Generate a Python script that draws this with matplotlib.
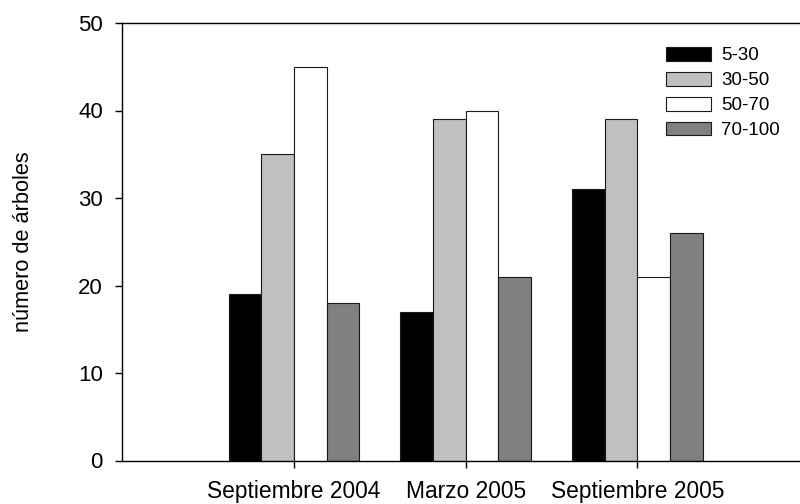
import matplotlib
matplotlib.use("Agg")
import matplotlib.pyplot as plt
import numpy as np

plt.rcParams['font.family'] = ['Liberation Sans', 'DejaVu Sans']

categories = ["Septiembre 2004", "Marzo 2005", "Septiembre 2005"]
series_names = ["5-30", "30-50", "50-70", "70-100"]
v_5_30 = [19, 17, 31]
v_30_50 = [35, 39, 39]
v_50_70 = [45, 40, 21]
v_70_100 = [18, 21, 26]
series = [v_5_30, v_30_50, v_50_70, v_70_100]
colors = ["#000000", "#c0c0c0", "#ffffff", "#808080"]

fig = plt.figure(figsize=(8.0, 5.04), dpi=100)
ax = fig.add_axes([122.3/800, 1-460.5/504, (809-122.3)/800, (460.5-23)/504])

x = np.arange(1, len(categories)+1)
w = 0.19
for i, (vals, name, c) in enumerate(zip(series, series_names, colors)):
    ax.bar(x + (i-1.5)*w, vals, width=w, color=c, edgecolor="#1a1a1a",
           linewidth=0.8, label=name, zorder=2)

ax.set_xlim(0, 4)
ax.set_ylim(0, 50)
ax.set_yticks([0, 10, 20, 30, 40, 50])
ax.set_xticks(x)
ax.set_xticklabels(categories)
ax.tick_params(axis='both', direction='out', length=5, width=1, labelsize=16, pad=9)
ax.tick_params(axis='x', labelsize=16.4)
ax.spines['right'].set_visible(False)
for s in ['left', 'bottom', 'top']:
    ax.spines[s].set_linewidth(1.0)

ax.set_ylabel("número de árboles", fontsize=15.7)
ax.yaxis.set_label_coords(-(122.3-34)/(809-122.3), 0.5)

leg = ax.legend(loc='upper left', bbox_to_anchor=((666-122.3)/(809-122.3), 1-(47-23)/(460.5-23)),
                frameon=False, fontsize=13.5, handlelength=2.4, handleheight=0.75,
                handletextpad=0.53, labelspacing=0.4, borderpad=0, borderaxespad=0)

fig.savefig("out.png", dpi=100)
